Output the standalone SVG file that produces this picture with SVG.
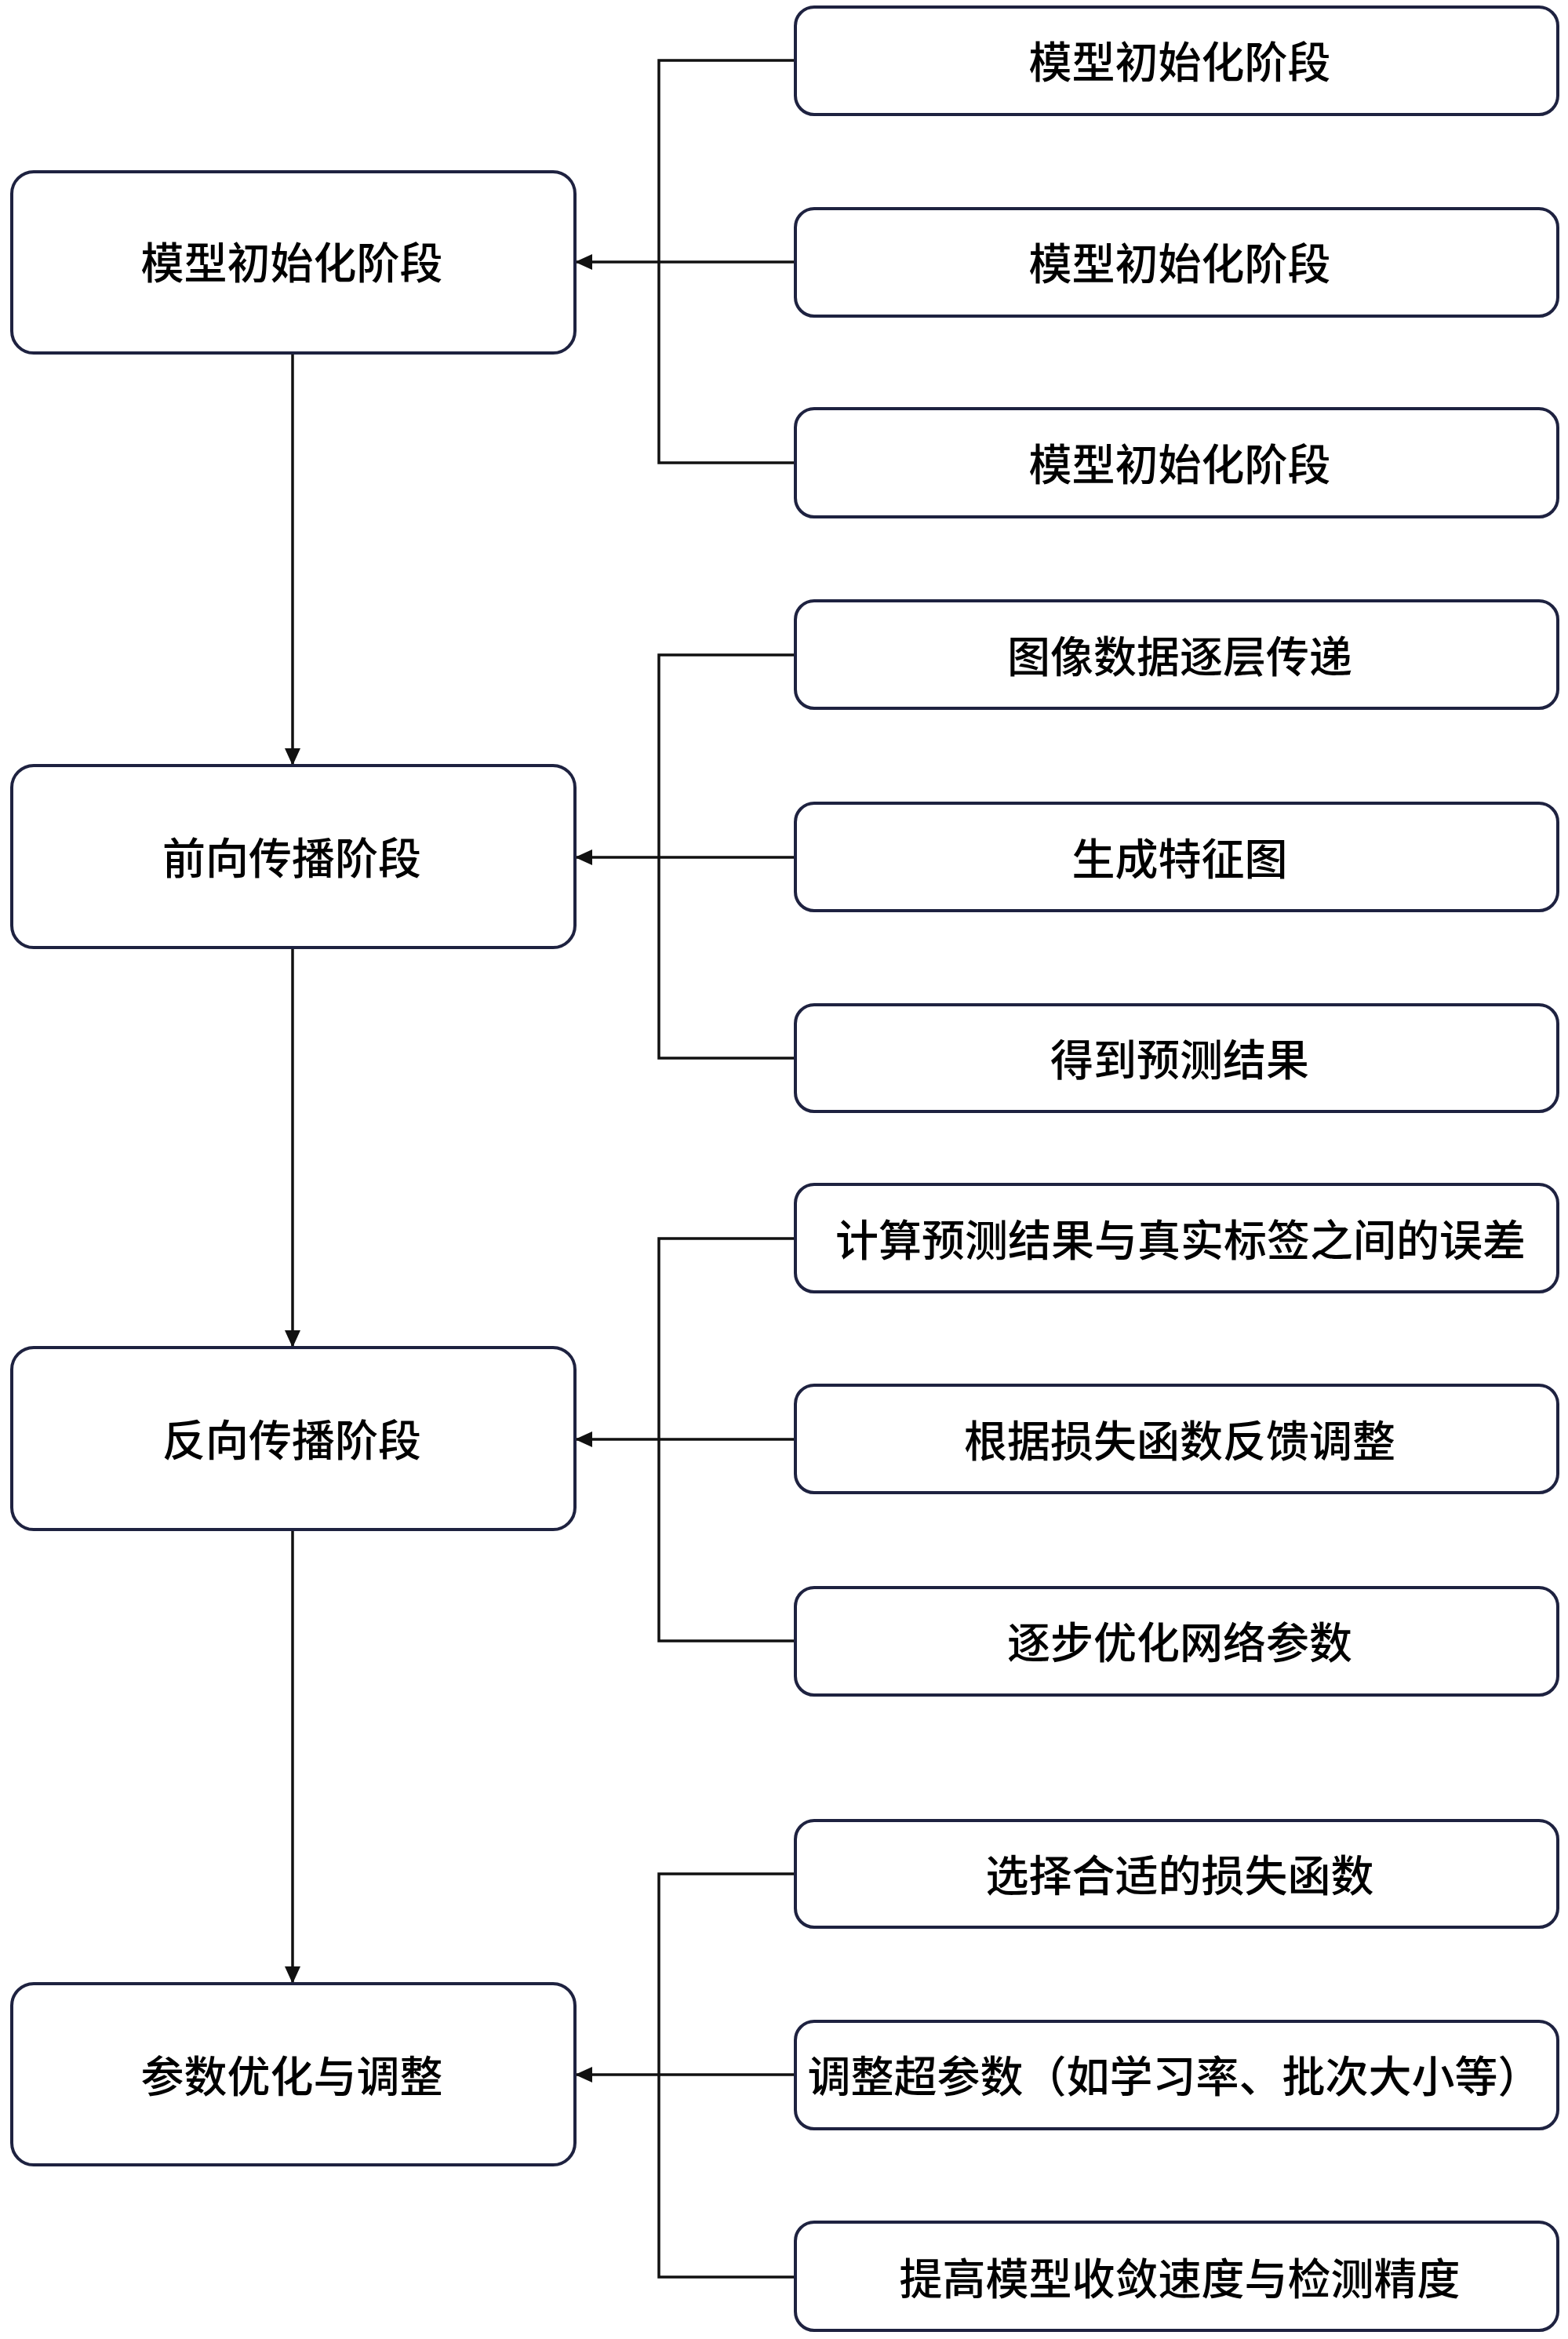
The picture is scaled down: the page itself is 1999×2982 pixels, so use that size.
<svg xmlns="http://www.w3.org/2000/svg" width="1999" height="2982" viewBox="0 0 1999 2982">
<style>
.stage{fill:#ffffff;stroke:#1e2240;stroke-width:4}
.item{fill:#ffffff;stroke:#1e2240;stroke-width:4}
.lbl{font-family:"Noto Sans CJK SC","Noto Sans",sans-serif;font-size:55px;font-weight:500;fill:#000000;text-anchor:middle}
.ln{fill:none;stroke:#111111;stroke-width:3.5}
</style>
<defs>
<marker id="ah" markerUnits="userSpaceOnUse" markerWidth="22" markerHeight="20" refX="22" refY="10" orient="auto">
<path d="M0,0 L22,10 L0,20 Z" fill="#111111"/>
</marker>
</defs>
<rect width="1999" height="2982" fill="#ffffff"/>
<g id="connectors">
<path class="ln" d="M373,450 V976" marker-end="url(#ah)"/>
<path class="ln" d="M373,1208 V1718" marker-end="url(#ah)"/>
<path class="ln" d="M373,1950 V2529" marker-end="url(#ah)"/>
<path class="ln" d="M1014,77 H840 V590 H1014"/>
<path class="ln" d="M1014,334 H733" marker-end="url(#ah)"/>
<path class="ln" d="M1014,835 H840 V1349 H1014"/>
<path class="ln" d="M1014,1093 H733" marker-end="url(#ah)"/>
<path class="ln" d="M1014,1579 H840 V2092 H1014"/>
<path class="ln" d="M1014,1835 H733" marker-end="url(#ah)"/>
<path class="ln" d="M1014,2389 H840 V2903 H1014"/>
<path class="ln" d="M1014,2645 H733" marker-end="url(#ah)"/>
</g>
<g id="stage1"><rect class="stage" x="15" y="219" width="718" height="231" rx="28"/><text class="lbl" x="372" y="355">模型初始化阶段</text></g>
<g id="stage2"><rect class="stage" x="15" y="976" width="718" height="232" rx="28"/><text class="lbl" x="372" y="1114">前向传播阶段</text></g>
<g id="stage3"><rect class="stage" x="15" y="1718" width="718" height="232" rx="28"/><text class="lbl" x="372" y="1856">反向传播阶段</text></g>
<g id="stage4"><rect class="stage" x="15" y="2529" width="718" height="231" rx="28"/><text class="lbl" x="372" y="2667">参数优化与调整</text></g>
<g id="s1a"><rect class="item" x="1014" y="9" width="972" height="137" rx="24"/><text class="lbl" x="1504" y="99">模型初始化阶段</text></g>
<g id="s1b"><rect class="item" x="1014" y="266" width="972" height="137" rx="24"/><text class="lbl" x="1504" y="356">模型初始化阶段</text></g>
<g id="s1c"><rect class="item" x="1014" y="521" width="972" height="138" rx="24"/><text class="lbl" x="1504" y="612">模型初始化阶段</text></g>
<g id="s2a"><rect class="item" x="1014" y="766" width="972" height="137" rx="24"/><text class="lbl" x="1504" y="857">图像数据逐层传递</text></g>
<g id="s2b"><rect class="item" x="1014" y="1024" width="972" height="137" rx="24"/><text class="lbl" x="1504" y="1115">生成特征图</text></g>
<g id="s2c"><rect class="item" x="1014" y="1281" width="972" height="136" rx="24"/><text class="lbl" x="1504" y="1371">得到预测结果</text></g>
<g id="s3a"><rect class="item" x="1014" y="1510" width="972" height="137" rx="24"/><text class="lbl" x="1505" y="1601">计算预测结果与真实标签之间的误差</text></g>
<g id="s3b"><rect class="item" x="1014" y="1766" width="972" height="137" rx="24"/><text class="lbl" x="1504" y="1857">根据损失函数反馈调整</text></g>
<g id="s3c"><rect class="item" x="1014" y="2024" width="972" height="137" rx="24"/><text class="lbl" x="1504" y="2114">逐步优化网络参数</text></g>
<g id="s4a"><rect class="item" x="1014" y="2321" width="972" height="136" rx="24"/><text class="lbl" x="1504" y="2411">选择合适的损失函数</text></g>
<g id="s4b"><rect class="item" x="1014" y="2577" width="972" height="137" rx="24"/><text class="lbl" x="1497" y="2667">调整超参数（如学习率、批次大小等）</text></g>
<g id="s4c"><rect class="item" x="1014" y="2833" width="972" height="138" rx="24"/><text class="lbl" x="1504" y="2925">提高模型收敛速度与检测精度</text></g>
</svg>
